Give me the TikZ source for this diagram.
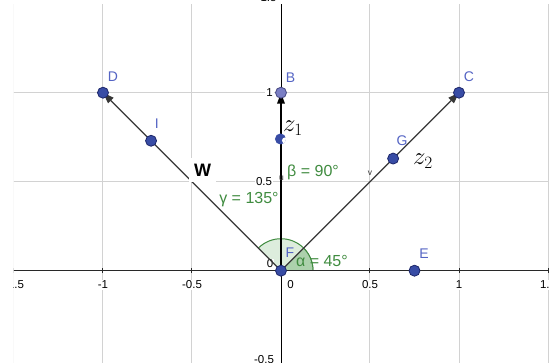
\documentclass[tikz,border=0pt]{standalone}
\usepackage{fontspec}
\setmainfont{Liberation Sans}
\usetikzlibrary{arrows.meta}
\definecolor{gridc}{RGB}{210,210,210}
\definecolor{ptblue}{RGB}{56,76,165}
\definecolor{ptborder}{RGB}{28,38,105}
\definecolor{bblue}{RGB}{122,126,196}
\definecolor{bborder}{RGB}{70,72,130}
\definecolor{labblue}{RGB}{84,100,196}
\definecolor{anggreen}{RGB}{64,140,64}
\definecolor{anglight}{RGB}{221,237,221}
\definecolor{angdark}{RGB}{172,209,172}
\definecolor{vecgray}{RGB}{55,55,55}
\definecolor{axgray}{RGB}{40,40,40}
\tikzset{
  gridline/.style={draw=gridc, line width=1pt},
  axlab/.style={font=\fontsize{11.5}{13}\selectfont, fill=white, inner sep=1pt, text=black},
  ptlab/.style={font=\fontsize{14}{16}\selectfont, text=labblue, inner sep=0pt},
  anglab/.style={font=\fontsize{16}{18}\selectfont, text=anggreen, inner sep=0pt},
  zlab/.style={font=\fontsize{24}{27}\selectfont, text=black, inner sep=0pt},
  vlab/.style={font=\fontsize{8.5}{10}\selectfont, text=vecgray, inner sep=0pt},
  ptdot/.style={circle, fill=ptblue, draw=ptborder, line width=0.8pt, minimum size=11pt, inner sep=0pt},
  bdot/.style={circle, fill=bblue, draw=bborder, line width=0.8pt, minimum size=11pt, inner sep=0pt},
  vec/.style={draw=vecgray, line width=1.2pt, -{Triangle[length=11pt,width=7.5pt]}},
  vecb/.style={draw=black, line width=1.8pt, -{Triangle[length=11pt,width=7.5pt]}},
  sector/.style={draw=anggreen, line width=1pt}
}
\begin{document}
\begin{tikzpicture}[x=178pt,y=178pt]
\useasboundingbox (-1.57865,-0.51292) rectangle (1.50562,1.52079);
\fill[white] (-1.57865,-0.51292) rectangle (1.50562,1.52079);
\coordinate (F) at (0,0);
\coordinate (D) at (-1,1);
\coordinate (B) at (0,1);
\coordinate (C) at (1,1);
\coordinate (E) at (0.75,0);
\coordinate (I) at (-0.73,0.73);
\coordinate (G) at (0.63,0.63);
\coordinate (Z1) at (-0.003,0.74);
\begin{scope}
  \clip (-1.5,-0.6) rectangle (1.6,1.4955);
  % grid
  \foreach \x in {-1.5,-1,-0.5,0.5,1,1.5} \draw[gridline] (\x,-0.6) -- (\x,1.6);
  \foreach \y in {0.5,1,1.5} \draw[gridline] (-1.6,\y) -- (1.6,\y);
  % angle sectors
  \fill[anglight] (F) -- (32pt,0) arc[start angle=0,end angle=135,radius=32pt] -- cycle;
  \draw[sector] (32pt,0) arc[start angle=0,end angle=135,radius=32pt];
  \fill[angdark] (F) -- (32pt,0) arc[start angle=0,end angle=45,radius=32pt] -- cycle;
  \draw[sector] (32pt,0) arc[start angle=0,end angle=45,radius=32pt];
  % axes
  \draw[axgray, line width=1.2pt] (-1.6,0) -- (1.6,0);
  \draw[black, line width=0.9pt] (0,-0.6) -- (0,1.6);
  \foreach \x in {-1.5,-1,-0.5,0.5,1,1.5} \draw[axgray, line width=1pt] (\x,0) ++(0,-2.5pt) -- ++(0,5pt);
  % axis labels
  \node[axlab] (xm15) at (-1.5,-0.0803) {-1.5};
  \node[axlab] (xm1) at (-1,-0.0803) {-1};
  \node[axlab] (xm05) at (-0.5,-0.0803) {-0.5};
  \node[axlab] (x0) at (0.054,-0.0803) {0};
  \node[axlab] (x05) at (0.5,-0.0803) {0.5};
  \node[axlab] (x1) at (1,-0.0803) {1};
  \node[axlab] (x15) at (1.5,-0.0803) {1.5};
  \node[axlab] (y1) at (-0.0646,1) {1};
  \node[axlab] (y05) at (-0.0955,0.5) {0.5};
  \node[axlab] (y0) at (-0.0618,0.0376) {0};
  \node[axlab] (ym05) at (-0.0955,-0.5) {-0.5};
  % vectors
  \draw[vec] (F) -- (D);
  \draw[vec] (F) -- (C);
  \draw[vecb] (F) -- (B);
  % W label
  \node[font=\fontsize{18}{20}\selectfont\bfseries, fill=white, inner sep=5.5pt] (W) at (-0.441,0.566) {W};
\end{scope}
\node[axlab, fill=none] (y15) at (-0.07,1.535) {1.5};
% points
\node[ptdot] (Dp) at (D) {};
\node[bdot] (Bp) at (B) {};
\node[ptdot] (Cp) at (C) {};
\node[ptdot] (Ep) at (E) {};
\node[ptdot] (Ip) at (I) {};
\node[ptdot] (Gp) at (G) {};
\node[ptdot] (Fp) at (F) {};
\node[circle, fill=ptblue, minimum size=11pt, inner sep=0pt] (Zp) at (Z1) {};
\begin{scope}
  \clip (Z1) circle (5.6pt);
  \fill[white] ([xshift=4.5pt,yshift=-1.5pt]Z1) circle (3pt);
\end{scope}
% point labels
\node[ptlab] (Dl) at (-0.944,1.091) {D};
\node[ptlab] (Bl) at (0.0534,1.085) {B};
\node[ptlab] (Cl) at (1.056,1.091) {C};
\node[ptlab] (Il) at (-0.698,0.828) {I};
\node[ptlab] (Gl) at (0.680,0.729) {G};
\node[ptlab] (El) at (0.803,0.094) {E};
\node[ptlab] (Fl) at (0.0506,0.0994) {F};
% angle labels
\node[anglab] (gam) at (-0.18,0.397) {γ = 135°};
\node[anglab] (bet) at (0.18,0.5545) {β = 90°};
\node[anglab] (alp) at (0.230,0.0545) {α = 45°};
% vector names
\node[zlab] (z1) at (0.0674,0.8017) {$z_1$};
\node[zlab] (z2) at (0.798,0.616) {$z_2$};
\node[vlab] (u) at (0.003,0.521) {u};
\node[vlab] (v) at (0.5,0.549) {v};
\end{tikzpicture}
\end{document}
